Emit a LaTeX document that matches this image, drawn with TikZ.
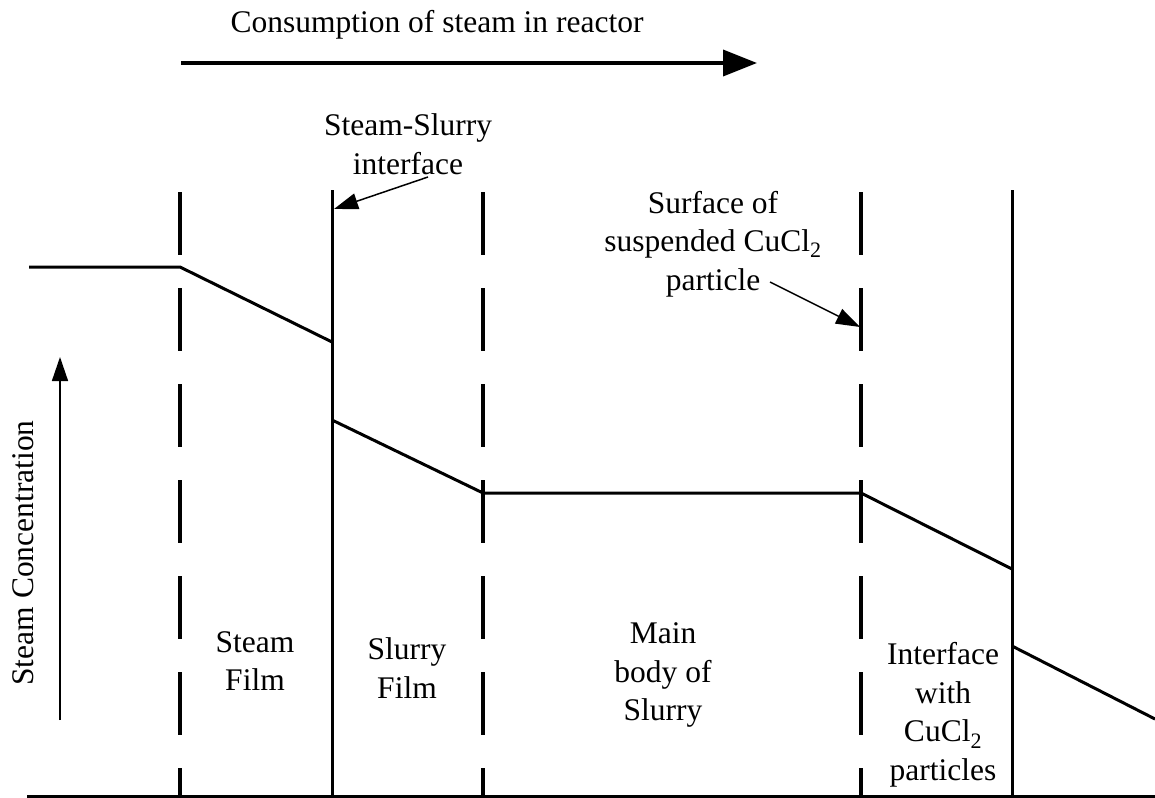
\documentclass[tikz,border=0pt]{standalone}
\usepackage{fontspec}
\setmainfont{Liberation Serif}
\usetikzlibrary{arrows.meta}
\begin{document}
\begin{tikzpicture}[x=1pt,y=-1pt,
  thick line/.style={line width=3pt},
  dashline/.style={line width=3.2pt, dash pattern=on 63pt off 33pt},
  thin arrow/.style={line width=1.5pt, -{Triangle[length=24pt,width=16pt]}},
  big arrow/.style={line width=3.8pt, -{Triangle[length=34pt,width=26pt]}},
  lbl/.style={font=\fontsize{31.5}{38.5}\selectfont, align=center, inner sep=0pt}]
\useasboundingbox (0,0) rectangle (1155,797);
% labels
\node[lbl] (cons) at (437,25) {Consumption of steam in reactor};
\node[lbl] (ssi) at (408,144) {Steam-Slurry\\interface};
\node[lbl] (surf) at (713,244) {Surface of\\suspended CuCl\textsubscript{2}\\particle};
\node[lbl] (sf) at (255,661) {Steam\\Film};
\node[lbl] (slf) at (407,668) {Slurry\\Film};
\node[lbl] (mb) at (663,675) {Main\\body of\\Slurry};
\node[lbl] (iw) at (943,715) {Interface\\with\\CuCl\textsubscript{2}\\particles};
\node[lbl, rotate=90] (sc) at (23,553) {Steam Concentration};
% top arrow
\coordinate (ta) at (181,63);
\coordinate (tb) at (757,63);
\draw[big arrow] (ta) -- (tb);
% concentration axis arrow
\coordinate (ca) at (60,720);
\coordinate (cb) at (60,357);
\draw[thin arrow] (ca) -- (cb);
% baseline
\coordinate (b0) at (27,796);
\coordinate (b1) at (1155,796);
\draw[thick line] (b0) -- (b1);
% boundaries
\foreach \x/\n in {180/d1,483/d2,861/d3}{
  \coordinate (\n t) at (\x,192);
  \coordinate (\n b) at (\x,797);
  \draw[dashline] (\n t) -- (\n b);
}
\foreach \x/\n in {332/s1,1012/s2}{
  \coordinate (\n t) at (\x,190);
  \coordinate (\n b) at (\x,797);
  \draw[thick line] (\n t) -- (\n b);
}
% profile
\coordinate (p0) at (29,267);
\coordinate (p1) at (180,267);
\coordinate (p2) at (332,342);
\coordinate (p3) at (332,420);
\coordinate (p4) at (483,493);
\coordinate (p5) at (861,493);
\coordinate (p6) at (1012,569);
\coordinate (p7) at (1012,646);
\coordinate (p8) at (1155,719);
\draw[thick line] (p0) -- (p1) -- (p2);
\draw[thick line] (p3) -- (p4) -- (p5) -- (p6);
\draw[thick line] (p7) -- (p8);
% label arrows
\coordinate (ssitail) at (428,177);
\coordinate (ssitip) at (334,209);
\draw[thin arrow] (ssitail) -- (ssitip);
\coordinate (surftail) at (770,282);
\coordinate (surftip) at (860,327);
\draw[thin arrow] (surftail) -- (surftip);
\end{tikzpicture}
\end{document}
